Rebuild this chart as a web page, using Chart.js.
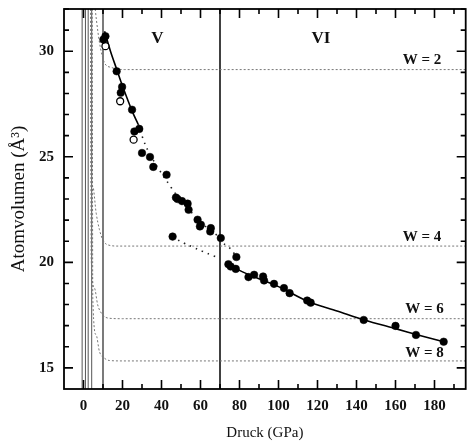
<!DOCTYPE html>
<html>
<head>
<meta charset="utf-8">
<script src="https://cdn.jsdelivr.net/npm/chart.js@4"></script>
<style>
html,body{margin:0;padding:0;background:#fff;}
#wrap{width:471px;height:445px;position:relative;}
</style>
</head>
<body>
<div id="wrap"><canvas id="c" width="471" height="445"></canvas></div>
<script>
// ---- data ----
const xTicks = [0, 20, 40, 60, 80, 100, 120, 140, 160, 180];
const yTicks = [15, 20, 25, 30];
const xTitle = 'Druck (GPa)';
const yTitle = 'Atomvolumen (Å³)';

// measured volumes (filled circles)
const fillX = [10.2, 11.25, 17.0, 19.8, 19.1, 24.9, 26.1, 28.6, 30.0, 34.1, 35.8, 42.6, 45.7, 47.4, 48.2, 50.5, 53.4, 53.9, 58.5, 60.2, 59.7, 65.3, 65.0, 70.4, 74.3, 75.5, 78.1, 78.4, 84.6, 87.5, 92.1, 92.6, 97.7, 102.8, 105.7, 114.7, 116.5, 143.7, 160.0, 170.5, 184.7];
const fillY = [30.55, 30.71, 29.05, 28.31, 28.03, 27.23, 26.2, 26.32, 25.18, 24.99, 24.52, 24.15, 21.22, 23.07, 23.0, 22.9, 22.78, 22.49, 22.02, 21.78, 21.7, 21.62, 21.46, 21.15, 19.91, 19.8, 19.69, 20.25, 19.3, 19.41, 19.33, 19.14, 18.98, 18.78, 18.54, 18.19, 18.09, 17.27, 16.99, 16.56, 16.24];
// open circles
const openX = [11.25, 18.8, 25.7];
const openY = [30.24, 27.63, 25.81];

// fitted curves
const solidVX = [10.8, 14, 17, 20, 25, 28];
const solidVY = [30.95, 29.95, 29.15, 28.35, 27.15, 26.55];
const dotVX = [28, 32, 37, 42, 48, 55, 62, 70.4];
const dotVY = [26.55, 25.5, 24.65, 23.95, 23.15, 22.4, 21.75, 21.15];
const dotLowX = [45.7, 49.1, 54.2, 58.5, 63.6, 69.6];
const dotLowY = [21.22, 21.02, 20.8, 20.62, 20.42, 20.2];
const dotVIX = [70.4, 72.1, 75.5, 78.4];
const dotVIY = [21.15, 20.88, 20.63, 20.25];
const solidVIX = [73.3, 80, 90, 100, 115, 130, 144, 160, 172, 184.7];
const solidVIY = [19.96, 19.62, 19.22, 18.85, 18.15, 17.7, 17.27, 16.86, 16.55, 16.24];

// W curves
const w2X = [6.0, 6.6, 8.2, 10.7, 14.3, 21, 196];
const w2Y = [32, 31.5, 30.41, 29.46, 29.23, 29.13, 29.13];
const w4X = [3.9, 3.94, 4.76, 6.5, 8.18, 9.87, 12.4, 18, 196];
const w4Y = [32, 24.39, 23.6, 22.33, 21.55, 21.07, 20.83, 20.77, 20.77];
const w6X = [3.6, 3.94, 5.63, 7.3, 9.87, 13.3, 20, 196];
const w6Y = [32, 20.2, 18.78, 17.98, 17.51, 17.35, 17.33, 17.33];
const w8X = [4.5, 4.76, 6.5, 8.18, 10.74, 13.3, 20, 196];
const w8Y = [32, 18.3, 16.56, 15.77, 15.46, 15.35, 15.33, 15.33];

// vertical lines
const grayLineX = [-0.7, 1.0, 2.4, 4.2];
const phaseLineX = [10, 70];

const xMin = -10, xMax = 196, yMin = 14, yMax = 32;

// ---- build ----
function pts(xs, ys) { return xs.map((x, i) => ({x: x, y: ys[i]})); }
function vline(x) { return [{x: x, y: yMin}, {x: x, y: yMax}]; }

const serif = 'Liberation Serif';
const datasets = [];

grayLineX.forEach(x => datasets.push({data: vline(x), showLine: true, borderColor: '#555', borderWidth: 1, pointRadius: 0, order: 5}));
datasets.push({data: vline(phaseLineX[0]), showLine: true, borderColor: '#333', borderWidth: 1.3, pointRadius: 0, order: 5});
datasets.push({data: vline(phaseLineX[1]), showLine: true, borderColor: '#111', borderWidth: 1.6, pointRadius: 0, order: 5});

[[w2X, w2Y], [w4X, w4Y], [w6X, w6Y], [w8X, w8Y]].forEach(c => datasets.push({
  data: pts(c[0], c[1]), showLine: true, borderColor: '#777', borderWidth: 1, borderDash: [2, 2],
  pointRadius: 0, cubicInterpolationMode: 'monotone', order: 4
}));

datasets.push({data: pts(solidVX, solidVY), showLine: true, borderColor: '#000', borderWidth: 1.6, pointRadius: 0, tension: 0.3, order: 2});
datasets.push({data: pts(dotVX, dotVY), showLine: true, borderColor: '#222', borderWidth: 1.6, borderDash: [1.5, 5], pointRadius: 0, tension: 0.3, order: 2});
datasets.push({data: pts(dotLowX, dotLowY), showLine: true, borderColor: '#222', borderWidth: 1.6, borderDash: [1.5, 5], pointRadius: 0, tension: 0.3, order: 2});
datasets.push({data: pts(dotVIX, dotVIY), showLine: true, borderColor: '#222', borderWidth: 1.6, borderDash: [1.5, 5], pointRadius: 0, tension: 0.3, order: 2});
datasets.push({data: pts(solidVIX, solidVIY), showLine: true, borderColor: '#000', borderWidth: 1.6, pointRadius: 0, tension: 0.3, order: 2});

datasets.push({data: pts(openX, openY), showLine: false, pointRadius: 3.5, pointBackgroundColor: '#fff', pointBorderColor: '#000', pointBorderWidth: 1.3, order: 1});
datasets.push({data: pts(fillX, fillY), showLine: false, pointRadius: 3.8, pointBackgroundColor: '#000', pointBorderColor: '#000', pointBorderWidth: 0.5, order: 0});

const frame = {
  id: 'frame',
  afterDraw(chart) {
    const ctx = chart.ctx, xs = chart.scales.x, ys = chart.scales.y;
    const L = xs.left, R = xs.right, T = ys.top, B = ys.bottom;
    ctx.save();
    ctx.strokeStyle = '#000';
    ctx.lineWidth = 1.8;
    ctx.strokeRect(L, T, R - L, B - T);
    ctx.lineWidth = 1.6;
    ctx.beginPath();
    for (let v = 0; v <= 190; v += 10) {
      const p = xs.getPixelForValue(v);
      const len = (v % 20 === 0) ? 9 : 5;
      ctx.moveTo(p, B); ctx.lineTo(p, B - len);
      ctx.moveTo(p, T); ctx.lineTo(p, T + len);
    }
    for (let v = 15; v <= 32; v += 1) {
      const p = ys.getPixelForValue(v);
      const len = (v % 5 === 0) ? 9 : 5;
      ctx.moveTo(L, p); ctx.lineTo(L + len, p);
      ctx.moveTo(R, p); ctx.lineTo(R - len, p);
    }
    ctx.stroke();
    // annotation texts
    ctx.fillStyle = '#111';
    ctx.textAlign = 'center';
    ctx.textBaseline = 'middle';
    ctx.font = 'bold 17px "' + serif + '"';
    ctx.fillText('V', xs.getPixelForValue(37.9), ys.getPixelForValue(30.6));
    ctx.fillText('VI', xs.getPixelForValue(121.8), ys.getPixelForValue(30.6));
    ctx.font = 'bold 15px "' + serif + '"';
    ctx.fillText('W = 2', xs.getPixelForValue(173.6), ys.getPixelForValue(29.58));
    ctx.fillText('W = 4', xs.getPixelForValue(173.6), ys.getPixelForValue(21.19));
    ctx.fillText('W = 6', xs.getPixelForValue(174.9), ys.getPixelForValue(17.78));
    ctx.fillText('W = 8', xs.getPixelForValue(174.9), ys.getPixelForValue(15.7));
    ctx.restore();
  }
};

new Chart(document.getElementById('c'), {
  type: 'scatter',
  data: {datasets: datasets},
  options: {
    responsive: false,
    animation: false,
    devicePixelRatio: 1,
    layout: {padding: {left: 0, right: 4, top: 9, bottom: 0}},
    plugins: {legend: {display: false}, tooltip: {enabled: false}},
    elements: {line: {fill: false}},
    scales: {
      x: {
        type: 'linear', min: xMin, max: xMax,
        grid: {display: false, drawTicks: false}, border: {display: false},
        afterBuildTicks: s => { s.ticks = xTicks.map(v => ({value: v})); },
        afterFit: s => { s.height = 56; s.paddingLeft = 0; s.paddingRight = 0; },
        ticks: {padding: 8, autoSkip: false, maxRotation: 0, color: '#111', font: {family: serif, size: 15, weight: 'bold'}},
        title: {display: true, text: xTitle, color: '#111', font: {family: serif, size: 15}, padding: {top: 0, bottom: 3}}
      },
      y: {
        type: 'linear', min: yMin, max: yMax,
        grid: {display: false, drawTicks: false}, border: {display: false},
        afterBuildTicks: s => { s.ticks = yTicks.map(v => ({value: v})); },
        afterFit: s => { s.width = 64; s.paddingTop = 0; s.paddingBottom = 0; },
        ticks: {padding: 10, autoSkip: false, color: '#111', font: {family: serif, size: 15, weight: 'bold'}},
        title: {display: true, text: yTitle, color: '#111', font: {family: serif, size: 19}, padding: {top: 8, bottom: 0}}
      }
    }
  },
  plugins: [frame]
});
</script>
</body>
</html>
